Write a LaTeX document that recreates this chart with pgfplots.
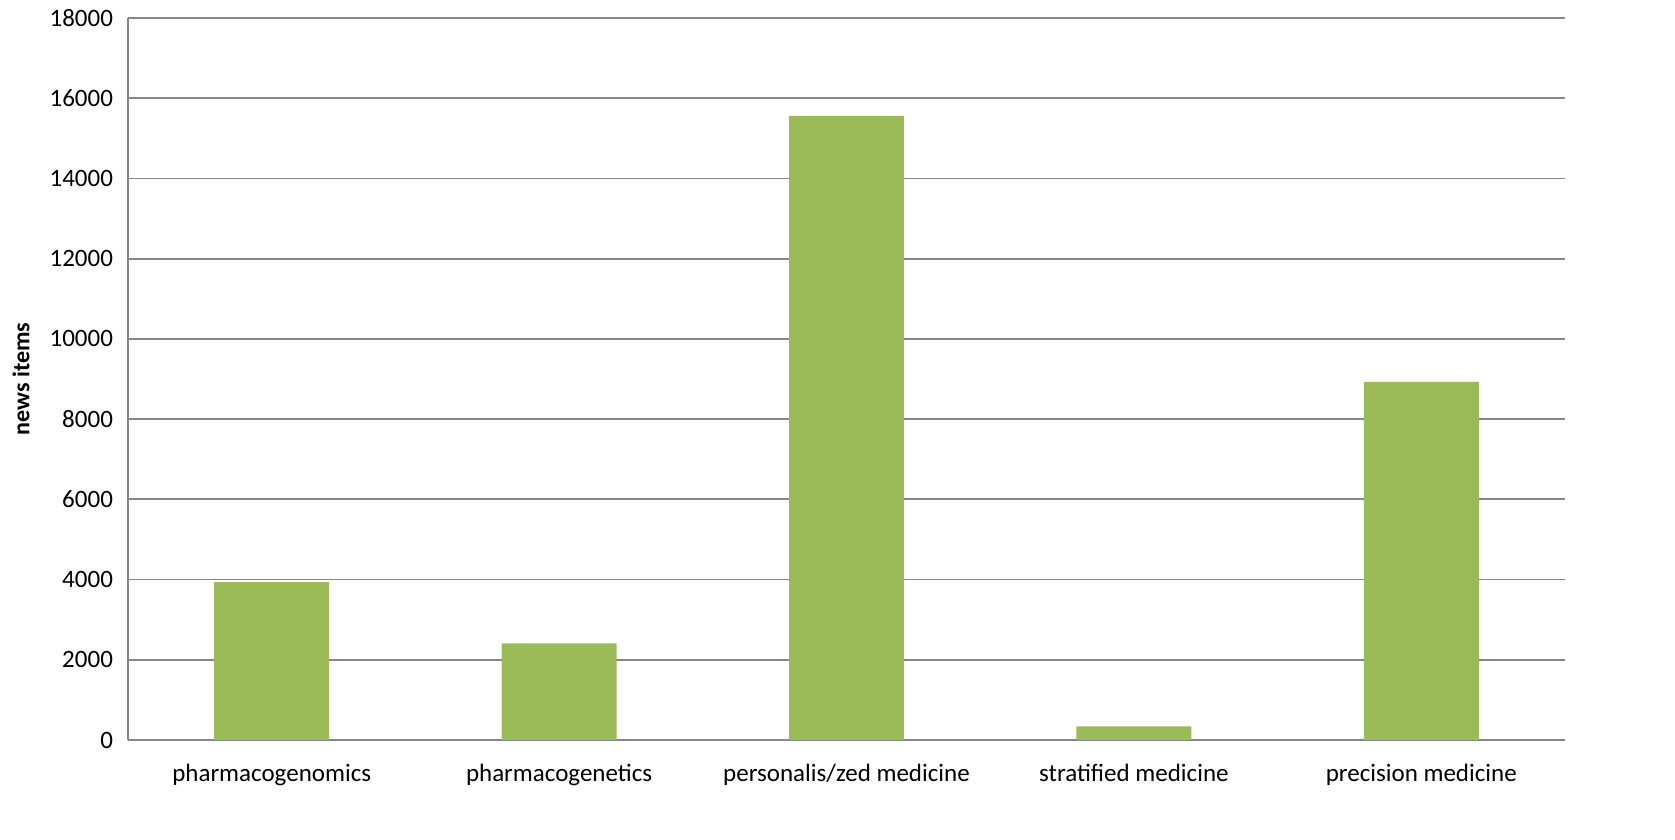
\documentclass[border=0pt]{standalone}
\usepackage{fontspec}
\setmainfont{Carlito}
\usepackage{pgfplots}
\pgfplotsset{compat=1.18}
\definecolor{bargreen}{HTML}{9BBB59}
\definecolor{gridgray}{HTML}{868686}
\begin{document}
\begin{tikzpicture}[font=\fontsize{12.5}{15}\selectfont]
\useasboundingbox (-64pt,-50pt) rectangle (773.5pt,370pt);
\begin{axis}[
    at={(0pt,0pt)}, anchor=south west,
    scale only axis,
    width=718.5pt, height=361pt,
    xmin=-0.5, xmax=4.5,
    ymin=0, ymax=18000,
    ytick={0,2000,...,18000},
    xtick=data,
    xticklabels={pharmacogenomics, pharmacogenetics, personalis/zed medicine, stratified medicine, precision medicine},
    ybar, bar width=0.4,
    axis x line*=bottom, axis y line*=left,
    axis line style={gridgray, line width=0.9pt},
    ymajorgrids, major grid style={gridgray, line width=0.9pt},
    major tick length=0pt,
    x axis line style={-}, y axis line style={-},
    scaled y ticks=false,
    /pgf/number format/assume math mode=true,
    /pgf/number format/1000 sep={},
    yticklabel style={font=\fontsize{12.5}{15}\selectfont, xshift=-4pt},
    xticklabel style={font=\fontsize{12.5}{15}\selectfont, yshift=-8.5pt},
    ylabel={\bfseries news items},
    ylabel style={font=\fontsize{12}{14}\selectfont, at={(axis description cs:-0.0745,0.5)}, anchor=center},
    clip=false,
]
\addplot[fill=bargreen, draw=none] coordinates {
    (0,3938) (1,2409) (2,15560) (3,340) (4,8930)
};
\end{axis}
\end{tikzpicture}
\end{document}
